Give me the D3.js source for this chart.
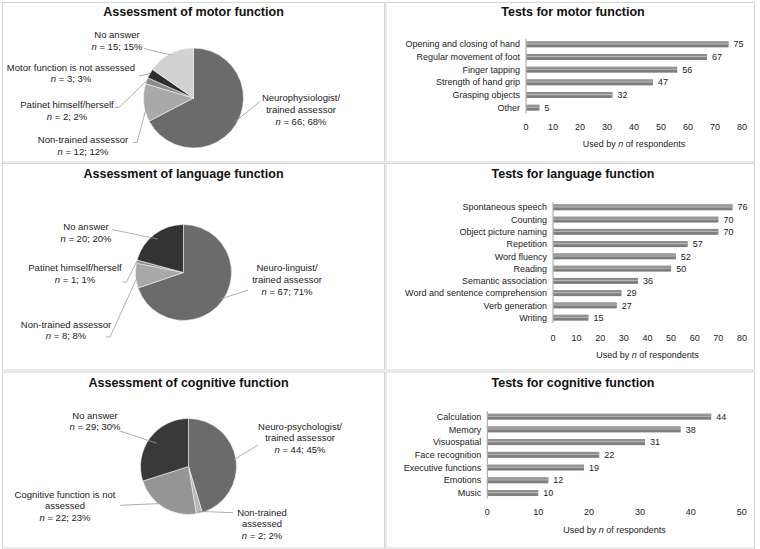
<!DOCTYPE html>
<html lang="en">
<head>
<meta charset="utf-8">
<title>Assessment and tests</title>
<style>
  body { margin: 0; background: #fff; }
  svg { font-family: "Liberation Sans", Arial, sans-serif; }
  .panel { fill: #fff; stroke: #d4d4d4; stroke-width: 1; }
  .title { font-size: 12.5px; font-weight: bold; fill: #111; text-anchor: middle; }
  .plabel { font-size: 9.5px; fill: #222; text-anchor: middle; }
  .blabel { font-size: 9px; fill: #222; }
  .leader { fill: none; stroke: #9a9a9a; stroke-width: 0.8; }
</style>
</head>
<body>
<svg id="chart" width="760" height="549"></svg>
<script src="https://d3js.org/d3.v7.min.js"></script>
<script>
// ---- data: pies ----
var motorPieLabels = [["Neurophysiologist/", "trained assessor"], ["Non-trained assessor"], ["Patinet himself/herself"], ["Motor function is not assessed"], ["No answer"]];
var motorPieN = [66, 12, 2, 3, 15];
var motorPiePct = [68, 12, 2, 3, 15];

var langPieLabels = [["Neuro-linguist/", "trained assessor"], ["Non-trained assessor"], ["Patinet himself/herself"], ["No answer"]];
var langPieN = [67, 8, 1, 20];
var langPiePct = [71, 8, 1, 20];

var cogPieLabels = [["Neuro-psychologist/", "trained assessor"], ["Non-trained", "assessed"], ["Cognitive function is not", "assessed"], ["No answer"]];
var cogPieN = [44, 2, 22, 29];
var cogPiePct = [45, 2, 23, 30];

// ---- data: bars ----
var motorTests = ["Opening and closing of hand", "Regular movement of foot", "Finger tapping", "Strength of hand grip", "Grasping objects", "Other"];
var motorCounts = [75, 67, 56, 47, 32, 5];
var motorTicks = [0, 10, 20, 30, 40, 50, 60, 70, 80];

var langTests = ["Spontaneous speech", "Counting", "Object picture naming", "Repetition", "Word fluency", "Reading", "Semantic association", "Word and sentence comprehension", "Verb generation", "Writing"];
var langCounts = [76, 70, 70, 57, 52, 50, 36, 29, 27, 15];
var langTicks = [0, 10, 20, 30, 40, 50, 60, 70, 80];

var cogTests = ["Calculation", "Memory", "Visuospatial", "Face recognition", "Executive functions", "Emotions", "Music"];
var cogCounts = [44, 38, 31, 22, 19, 12, 10];
var cogTicks = [0, 10, 20, 30, 40, 50];

var svg = d3.select("#chart");

// panel frames
var cols = [[2.5, 384.5], [386, 754.5]];
var rows = [[2.5, 162], [163.5, 370], [372, 548]];
rows.forEach(function (r) {
    cols.forEach(function (c) {
        svg.append("rect").attr("class", "panel")
            .attr("x", c[0]).attr("y", r[0])
            .attr("width", c[1] - c[0]).attr("height", r[1] - r[0]);
    });
});

// ---- pie helper ----
function drawPie(opt) {
    var g = svg.append("g");
    g.append("text").attr("class", "title")
        .attr("x", opt.cx).attr("y", opt.titleY).attr("dy", "0.35em").text(opt.title);

    var pie = d3.pie().sort(null).value(function (d) { return d; });
    var arcs = pie(opt.n);
    var arc = d3.arc().innerRadius(0).outerRadius(opt.r);
    var pg = g.append("g").attr("transform", "translate(" + opt.cx + "," + opt.cy + ")");
    pg.selectAll("path").data(arcs).enter().append("path")
        .attr("d", arc)
        .attr("fill", function (d, i) { return opt.colors[i]; })
        .attr("stroke", "#f2f2f2").attr("stroke-width", 0.6);

    arcs.forEach(function (a, i) {
        var L = opt.layout[i];
        var mid = (a.startAngle + a.endAngle) / 2;
        var rr = opt.r * L.k;
        var px = opt.cx + rr * Math.sin(mid), py = opt.cy - rr * Math.cos(mid);
        var pts = [[L.lx, L.ly]];
        if (L.elbow) pts.push([L.lx + L.elbow, L.ly]);
        pts.push([px, py]);
        g.append("path").attr("class", "leader").attr("d", d3.line()(pts));

        var lines = opt.labels[i].slice();
        lines.push("n = " + opt.n[i] + "; " + opt.pct[i] + "%");
        lines.forEach(function (ln, j) {
            var t = g.append("text").attr("class", "plabel")
                .attr("x", L.tx).attr("y", L.ty + j * 11.6).attr("dy", "0.35em");
            if (j === lines.length - 1) {
                t.append("tspan").attr("font-style", "italic").text("n");
                t.append("tspan").text(ln.slice(1));
            } else {
                t.text(ln);
            }
        });
    });
}

drawPie({
    title: "Assessment of motor function", titleY: 12, cx: 193.5, cy: 98, r: 50,
    n: motorPieN, pct: motorPiePct, labels: motorPieLabels,
    colors: ["#6b6b6b", "#a9a9a9", "#8a8a8a", "#2e2e2e", "#d2d2d2"],
    layout: [
        { tx: 301, ty: 98, lx: 260, ly: 101.5, k: 0.95 },
        { tx: 83, ty: 140, lx: 133, ly: 142.5, elbow: 4, k: 0.92 },
        { tx: 67, ty: 105, lx: 115, ly: 107.5, elbow: 4, k: 1.0 },
        { tx: 71, ty: 67.5, lx: 139, ly: 76, k: 1.0 },
        { tx: 117, ty: 35, lx: 144, ly: 48.5, k: 0.97 }
    ]
});

drawPie({
    title: "Assessment of language function", titleY: 173.5, cx: 183.5, cy: 272.5, r: 48,
    n: langPieN, pct: langPiePct, labels: langPieLabels,
    colors: ["#6b6b6b", "#a9a9a9", "#8a8a8a", "#333333"],
    layout: [
        { tx: 287, ty: 268, lx: 248, ly: 290, k: 0.95 },
        { tx: 66, ty: 324.5, lx: 106, ly: 337, elbow: 4, k: 0.95 },
        { tx: 75, ty: 268, lx: 122.5, ly: 282, elbow: 4, k: 1.0 },
        { tx: 86, ty: 227, lx: 112, ly: 229.5, k: 0.88 }
    ]
});

drawPie({
    title: "Assessment of cognitive function", titleY: 382.7, cx: 188.5, cy: 466.5, r: 48,
    n: cogPieN, pct: cogPiePct, labels: cogPieLabels,
    colors: ["#6b6b6b", "#b9b9b9", "#959595", "#393939"],
    layout: [
        { tx: 300, ty: 426.5, lx: 258, ly: 445, k: 0.95 },
        { tx: 262, ty: 512.5, lx: 233, ly: 512.7, k: 0.96 },
        { tx: 65, ty: 494.3, lx: 120, ly: 505.3, k: 0.9 },
        { tx: 95, ty: 415.3, lx: 120, ly: 431, k: 0.82 }
    ]
});

// ---- bar helper ----
function drawBars(opt) {
    var g = svg.append("g");
    g.append("text").attr("class", "title")
        .attr("x", 573).attr("y", opt.titleY).attr("dy", "0.35em").text(opt.title);

    var x = d3.scaleLinear().domain([0, opt.ticks[opt.ticks.length - 1]]).range([opt.x0, opt.x1]);
    var y = d3.scaleBand().domain(opt.cats).range([opt.y0, opt.y1]);
    var bh = 6;

    // vertical axis line
    g.append("line").attr("x1", x(0)).attr("x2", x(0))
        .attr("y1", opt.y0 + 1).attr("y2", opt.y1 - 1)
        .attr("stroke", "#a0a0a0").attr("stroke-width", 1);

    var bars = g.selectAll(".bar").data(opt.cats).enter().append("g");
    bars.append("rect")
        .attr("x", x(0) + 0.5)
        .attr("y", function (d) { return y(d) + y.bandwidth() / 2 - bh / 2; })
        .attr("width", function (d, i) { return x(opt.vals[i]) - x(0) - 0.5; })
        .attr("height", bh)
        .attr("fill", "#7d7d7d");
    bars.append("rect")
        .attr("x", x(0) + 0.5)
        .attr("y", function (d) { return y(d) + y.bandwidth() / 2 - 1; })
        .attr("width", function (d, i) { return x(opt.vals[i]) - x(0) - 0.5; })
        .attr("height", 1.2)
        .attr("fill", "#b8b8b8");
    bars.append("rect")
        .attr("x", x(0) + 0.5)
        .attr("y", function (d) { return y(d) + y.bandwidth() / 2 - bh / 2 + 0.6; })
        .attr("width", function (d, i) { return x(opt.vals[i]) - x(0) - 0.5; })
        .attr("height", 0.8)
        .attr("fill", "#a0a0a0");

    // category labels
    bars.append("text").attr("class", "blabel")
        .attr("x", x(0) - 6)
        .attr("y", function (d) { return y(d) + y.bandwidth() / 2; })
        .attr("dy", "0.35em").attr("text-anchor", "end")
        .text(function (d) { return d; });

    // value labels
    bars.append("text").attr("class", "blabel")
        .attr("x", function (d, i) { return x(opt.vals[i]) + 5; })
        .attr("y", function (d) { return y(d) + y.bandwidth() / 2; })
        .attr("dy", "0.35em")
        .text(function (d, i) { return opt.vals[i]; });

    // tick labels
    g.selectAll(".tick").data(opt.ticks).enter().append("text")
        .attr("class", "blabel").attr("text-anchor", "middle")
        .attr("x", function (d) { return x(d); })
        .attr("y", opt.tickY).attr("dy", "0.35em")
        .text(function (d) { return d; });

    var at = g.append("text").attr("class", "blabel").attr("text-anchor", "middle")
        .attr("x", (opt.x0 + opt.x1) / 2).attr("y", opt.axisTitleY).attr("dy", "0.35em");
    at.append("tspan").text("Used by ");
    at.append("tspan").attr("font-style", "italic").text("n");
    at.append("tspan").text(" of respondents");
}

drawBars({
    title: "Tests for motor function", titleY: 11.7,
    cats: motorTests, vals: motorCounts, ticks: motorTicks,
    x0: 526, x1: 742, y0: 38, y1: 114, tickY: 126.7, axisTitleY: 144.3
});

drawBars({
    title: "Tests for language function", titleY: 173.5,
    cats: langTests, vals: langCounts, ticks: langTicks,
    x0: 553, x1: 742, y0: 201.2, y1: 323.8, tickY: 338.3, axisTitleY: 355
});

drawBars({
    title: "Tests for cognitive function", titleY: 382.7,
    cats: cogTests, vals: cogCounts, ticks: cogTicks,
    x0: 487.3, x1: 741.7, y0: 410.3, y1: 499.4, tickY: 512, axisTitleY: 530
});
</script>
</body>
</html>
